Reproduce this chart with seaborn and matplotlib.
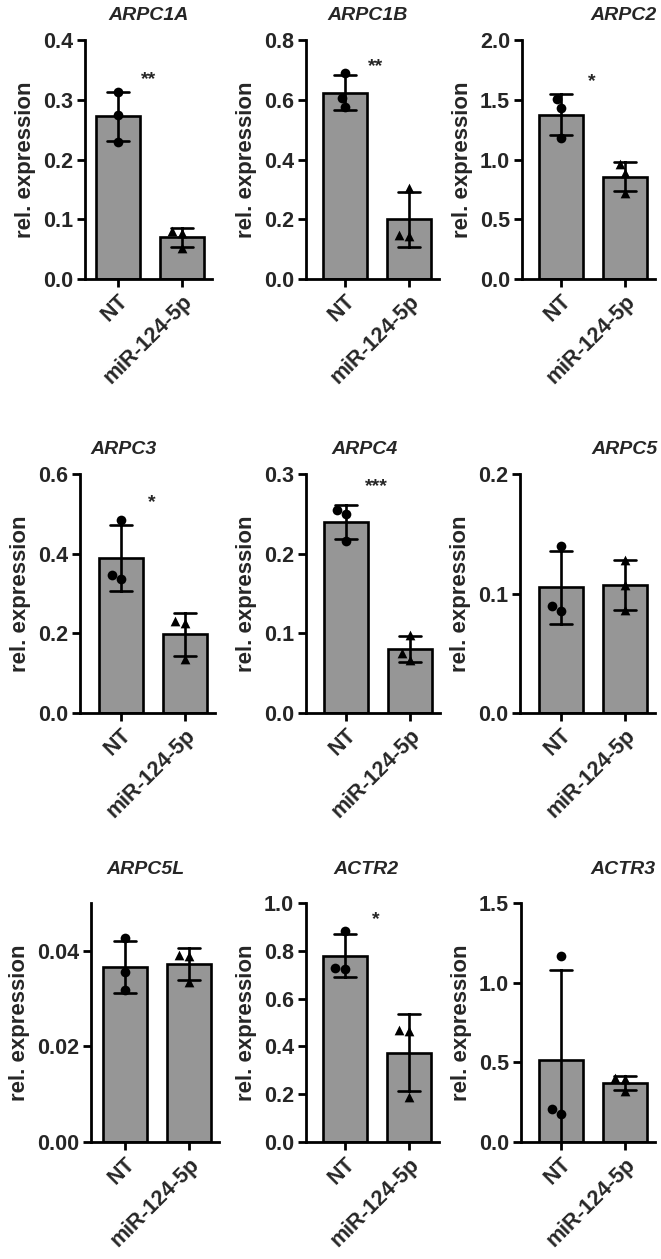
import numpy as np
import pandas as pd
import matplotlib
matplotlib.use("Agg")
import matplotlib.pyplot as plt
import seaborn as sns
from matplotlib.transforms import blended_transform_factory

# ---------------- data ----------------
genes = ["ARPC1A", "ARPC1B", "ARPC2", "ARPC3", "ARPC4", "ARPC5", "ARPC5L", "ACTR2", "ACTR3"]
groups = ["NT", "miR-124-5p"]
nt_values = [
    [0.3125, 0.2747, 0.230],
    [0.689, 0.607, 0.576],
    [1.508, 1.433, 1.180],
    [0.484, 0.336, 0.347],
    [0.255, 0.250, 0.2155],
    [0.140, 0.0856, 0.0898],
    [0.0426, 0.0356, 0.0318],
    [0.883, 0.725, 0.728],
    [1.165, 0.178, 0.209],
]
mir_values = [
    [0.080, 0.077, 0.052],
    [0.305, 0.145, 0.148],
    [0.89, 0.96, 0.72],
    [0.232, 0.226, 0.135],
    [0.098, 0.075, 0.067],
    [0.128, 0.107, 0.086],
    [0.0392, 0.0390, 0.0334],
    [0.465, 0.470, 0.187],
    [0.400, 0.395, 0.322],
]
significance = ["**", "**", "*", "*", "***", "", "", "*", ""]
y_max = [0.4, 0.8, 2.0, 0.6, 0.3, 0.2, 0.05, 1.0, 1.5]
y_step = [0.1, 0.2, 0.5, 0.2, 0.1, 0.1, 0.02, 0.2, 0.5]
y_decimals = [1, 1, 1, 1, 1, 1, 2, 1, 1]

# ---------------- layout ----------------
W, H = 661, 1259
UNIT = 64.0            # px per category
AX_H = 239.0
row_tops = [40, 474, 903]
nt_centers = [118, 345, 561, 121, 346, 561, 125, 345, 561]
xlim_left = [-0.52, -0.61, -0.61, -0.64, -0.625, -0.64, -0.53, -0.61, -0.625]
XLIM_RIGHT = 1.47
title_x = [149, 368, 624, 124, 365, 625, 145, 366, 623]
title_y = [14, 448, 868]
star_frac = [0.862, 0.92, 0.854, 0.908, 0.975, None, None, 0.96, None]

sns.set_style("ticks")
plt.rcParams["font.family"] = ["Liberation Sans", "DejaVu Sans"]
plt.rcParams["axes.linewidth"] = 2.0

fig = plt.figure(figsize=(W / 100, H / 100), dpi=100)

for i, gene in enumerate(genes):
    row, col = divmod(i, 3)
    left_px = nt_centers[i] + xlim_left[i] * UNIT
    width_px = (XLIM_RIGHT - xlim_left[i]) * UNIT
    top_px = row_tops[row]
    ax = fig.add_axes([left_px / W, 1 - (top_px + AX_H) / H, width_px / W, AX_H / H])

    df = pd.DataFrame({
        "group": [groups[0]] * len(nt_values[i]) + [groups[1]] * len(mir_values[i]),
        "value": nt_values[i] + mir_values[i],
    })
    sns.barplot(data=df, x="group", y="value", order=groups, errorbar="sd",
                capsize=0.34, color="#969696", saturation=1, edgecolor="black",
                linewidth=1.9, width=0.69,
                err_kws={"color": "black", "linewidth": 1.9}, ax=ax)
    sns.swarmplot(data=df[df["group"] == groups[0]], x="group", y="value", order=groups,
                  color="black", marker="o", size=7, linewidth=0, zorder=4, ax=ax)
    sns.swarmplot(data=df[df["group"] == groups[1]], x="group", y="value", order=groups,
                  color="black", marker="^", size=7, linewidth=0, zorder=4, ax=ax)

    ax.set_xlim(xlim_left[i], XLIM_RIGHT)
    ax.set_ylim(0, y_max[i])
    ticks = np.arange(0, y_max[i] + 1e-9, y_step[i])
    ax.set_yticks(ticks)
    ax.set_yticklabels([f"{t:.{y_decimals[i]}f}" for t in ticks],
                       fontsize=15.5, fontweight="bold")
    ax.set_xticks([0, 1])
    ax.set_xticklabels(groups, rotation=45, ha="right", rotation_mode="anchor",
                       fontsize=15.5, fontweight="bold")
    ax.tick_params(axis="both", length=5.5, width=2.0, color="black", pad=3)
    ax.set_xlabel("")
    ax.set_ylabel("rel. expression", fontsize=16, fontweight="bold", labelpad=5)
    sns.despine(ax=ax)
    for s in ("left", "bottom"):
        ax.spines[s].set_linewidth(2.0)
        ax.spines[s].set_color("black")

    if significance[i]:
        tr = blended_transform_factory(ax.transData, ax.transAxes)
        ax.text(0.48, star_frac[i] - 0.048, significance[i], transform=tr,
                ha="center", va="baseline", fontsize=14, fontweight="bold")

    fig.text(title_x[i] / W, 1 - (title_y[row] + 6.5) / H, gene, ha="center",
             va="baseline", fontsize=14, fontweight="bold", fontstyle="italic")

fig.savefig("out.png", dpi=100, facecolor="white")
